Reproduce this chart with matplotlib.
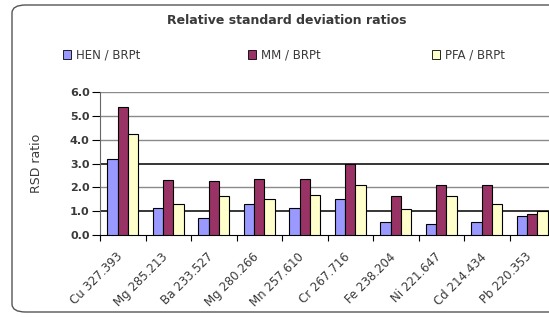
import numpy as np
import matplotlib.pyplot as plt
from matplotlib.patches import FancyBboxPatch, Patch
from matplotlib.transforms import ScaledTranslation

plt.rcParams['font.family'] = ['DejaVu Sans']

# data
categories = ['Cu 327.393', 'Mg 285.213', 'Ba 233.527', 'Mg 280.266', 'Mn 257.610',
              'Cr 267.716', 'Fe 238.204', 'Ni 221.647', 'Cd 214.434', 'Pb 220.353']
hen_brpt = [3.2, 1.15, 0.7, 1.3, 1.15, 1.5, 0.55, 0.45, 0.55, 0.81]
mm_brpt = [5.35, 2.3, 2.25, 2.35, 2.34, 2.97, 1.63, 2.09, 2.09, 0.88]
pfa_brpt = [4.25, 1.3, 1.65, 1.5, 1.68, 2.09, 1.09, 1.63, 1.29, 1.0]
series_names = ['HEN / BRPt', 'MM / BRPt', 'PFA / BRPt']
colors = ['#9999ff', '#993366', '#ffffcc']

W, H = 549, 317
fig = plt.figure(figsize=(W / 100, H / 100), dpi=100)

# rounded chart frame (right side runs off the picture)
frame = FancyBboxPatch((12 / W, 5 / H), 600 / W, 307 / H, transform=fig.transFigure,
                       boxstyle='round,pad=0,rounding_size=0.025', fc='white',
                       ec='#555555', lw=1.0, zorder=0)
fig.patches.append(frame)

# plot area runs past the right edge, like the cropped reference
ax = fig.add_axes([100 / W, (H - 235) / H, 455 / W, 143 / H])
ax.set_facecolor('none')
ax.set_zorder(2)

x = np.arange(len(categories))
bw = 0.23
all_vals = [hen_brpt, mm_brpt, pfa_brpt]
for i, vals in enumerate(all_vals):
    ax.bar(x + (i - 1) * bw, vals, bw, color=colors[i], edgecolor='black',
           linewidth=0.8, zorder=3)

ax.set_xlim(-0.5, len(categories) - 0.5)
ax.set_ylim(0, 6)
ax.set_yticks(np.arange(0, 6.1, 1.0))
ax.set_yticklabels(['%.1f' % v for v in np.arange(0, 6.1, 1.0)], fontsize=8,
                   fontweight='bold', color='#3a3a3a')
for v in [2, 4, 5, 6]:
    ax.axhline(v, color='#8a8a8a', lw=1.0, zorder=1)
for v in [1, 3]:
    ax.axhline(v, color='black', lw=1.1, zorder=1)

ax.set_xticks(x)
ax.set_xticklabels(categories, rotation=45, ha='right', va='top',
                   rotation_mode='anchor', fontsize=8.5, color='#3a3a3a')
ax.tick_params(axis='x', length=0, pad=11)
shift = ScaledTranslation(-5 / 72, 0, fig.dpi_scale_trans)
for lab in ax.get_xticklabels():
    lab.set_transform(lab.get_transform() + shift)
ax.set_xticks(np.arange(-0.5, len(categories), 1.0), minor=True)
ax.tick_params(axis='x', which='minor', length=4, width=0.8, direction='out')
ax.tick_params(axis='y', length=6, width=0.8, pad=1.5)

for s in ['top', 'right']:
    ax.spines[s].set_visible(False)
ax.spines['left'].set_color('#666666')
ax.spines['bottom'].set_color('black')

fig.text(37 / W, 1 - 163 / H, 'RSD ratio', rotation=90, ha='center', va='center',
         fontsize=9, color='#3a3a3a')
fig.text(287 / W, 1 - 20 / H, 'Relative standard deviation ratios', ha='center',
         va='center', fontsize=9, fontweight='bold', color='#3a3a3a')

# legend entries spread across the top
leg_x = [52, 237, 421]
for i in range(3):
    h = Patch(facecolor=colors[i], edgecolor='black', linewidth=0.6)
    fig.legend([h], [series_names[i]], loc='center left',
               bbox_to_anchor=(leg_x[i] / W, 1 - 55 / H), frameon=False,
               handlelength=0.7, handleheight=0.7, handletextpad=0.4,
               fontsize=8.5, labelcolor='#3a3a3a')

fig.savefig('out.png', dpi=100)
